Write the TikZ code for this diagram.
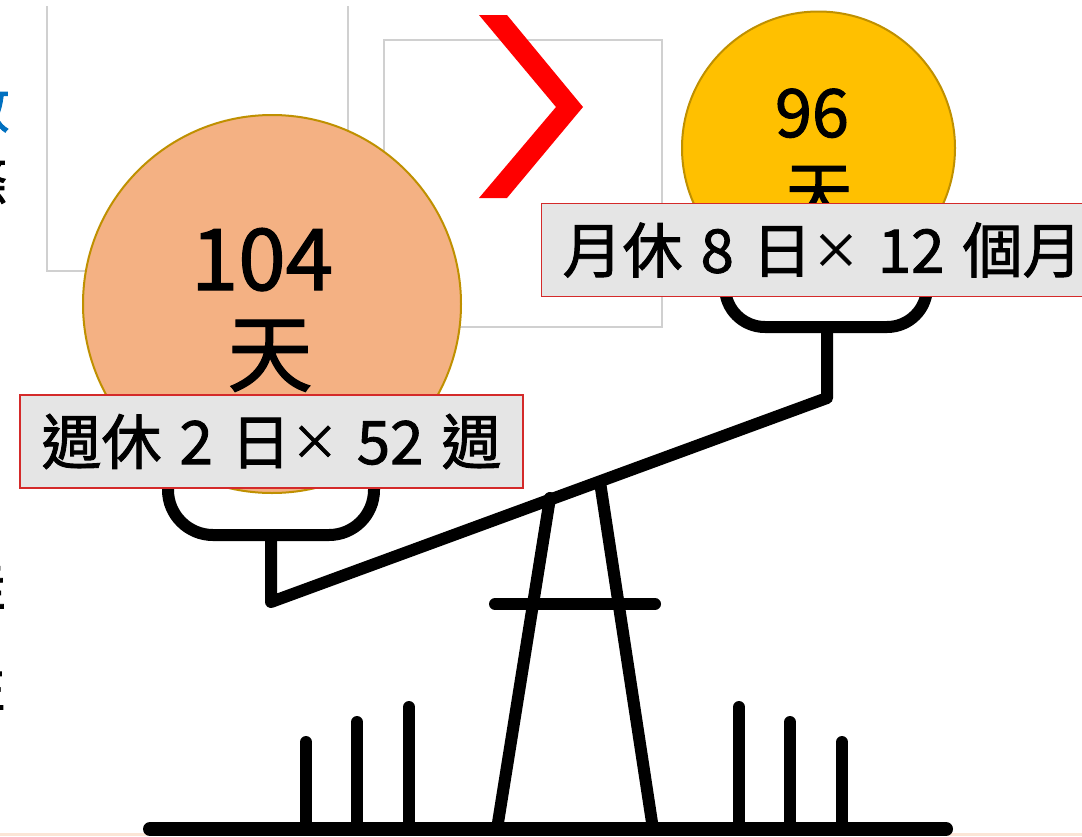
\documentclass[tikz,border=0pt]{standalone}
\usepackage{fontspec}
\setmainfont{Noto Sans CJK TC}[FakeBold=1.5]
\definecolor{goldedge}{HTML}{BF9000}
\definecolor{peach}{HTML}{F4B183}
\definecolor{amber}{HTML}{FFC000}
\definecolor{boxgray}{HTML}{E5E5E5}
\definecolor{boxred}{HTML}{D42A2A}
\definecolor{framegray}{HTML}{D0D0D0}
\definecolor{titleblue}{HTML}{0070C0}
\definecolor{chevron}{HTML}{FF0000}
\definecolor{footband}{HTML}{FBE5D6}
% word gap and multiplication sign used in the formula labels
\newcommand\wgap{\hspace{0.3em}}
\newcommand\mulsign{\raisebox{3.5pt}{\fontsize{36}{40}\selectfont ×}}
\begin{document}
\begin{tikzpicture}[x=0.75pt,y=-0.75pt,
  frame/.style={draw=framegray, line width=1pt},
  bar/.style={draw=black, line width=9pt, line cap=round, line join=round},
  disc/.style={circle, draw=goldedge, line width=1.5pt, inner sep=0pt},
  labelbox/.style={draw=boxred, fill=boxgray, line width=0.9pt, inner ysep=0pt,
    minimum height=69.75pt, font=\fontsize{45}{50}\selectfont},
  bigtxt/.style={inner sep=0pt, anchor=base, font=\fontsize{64}{70}\selectfont},
  midtxt/.style={inner sep=0pt, anchor=base, font=\fontsize{50}{56}\selectfont},
  edgetxt/.style={inner sep=0pt, anchor=base east, font=\fontsize{42}{46}\selectfont}]
\useasboundingbox (0,0) rectangle (1082,836);
\clip (0,0) rectangle (1082,836);
\fill[white] (0,0) rectangle (1082,836);
\fill[footband] (0,833) rectangle (1082,836);

% cut-off text at the left edge
\node[edgetxt, text=titleblue] (t1) at (10,128) {數};
\node[edgetxt] (t2) at (8,203) {條};
\node[edgetxt] (t3) at (6,606) {佳};
\node[edgetxt] (t4) at (6,707) {性};

% empty picture frames
\draw[frame] (47,6) -- (47,271) -- (348,271) -- (348,6);
\draw[frame] (384,40) rectangle (662,327);

% red chevron
\fill[chevron] (479,15) -- (507,15) -- (583,107) -- (507,198) -- (479,198) -- (556,107) -- cycle;

% scale: ground, grass and stand
\coordinate (g1) at (150,829);
\coordinate (g2) at (946,829);
\draw[bar, line width=10.5pt] (g1) -- (g2);
\foreach \x/\t in {306/742, 357/722, 409/707, 739/707, 790/722, 842/742}
  \draw[bar] (\x,829) -- (\x,\t);
\coordinate (legLb) at (497,829);
\coordinate (legLt) at (550,498);
\coordinate (legRb) at (653,829);
\coordinate (legRt) at (600,482);
\draw[bar] (legLb) -- (legLt);
\draw[bar] (legRb) -- (legRt);
\draw[bar] (495,604) -- (655,604);

% beam and pans
\coordinate (beamL) at (271,602);
\coordinate (beamR) at (827,398);
\draw[bar] (271,535) -- (beamL) -- (beamR) -- (827,327);
\draw[bar, rounded corners=33.75pt] (168,470) -- (168,535) -- (374,535) -- (374,470);
\draw[bar, rounded corners=30pt] (725,280) -- (725,327) -- (927,327) -- (927,280);

% weights
\node[disc, fill=peach, minimum size=283.5pt] (wL) at (272,304) {};
\node[disc, fill=amber, minimum size=204.75pt] (wR) at (818.5,148) {};
\node[bigtxt] (nL) at (262,290) {104};
\node[bigtxt] (dL) at (270,385) {天};
\node[midtxt] (nR) at (812,137) {96};
\node[midtxt] (dR) at (819,217) {天};

% formula labels
\node[labelbox, minimum width=377.25pt] (bL) at (271.5,441.5)
  {週休\wgap 2\wgap 日\mulsign\wgap 52\wgap 週};
\node[labelbox, anchor=west, inner xsep=15.75pt] (bR) at (541,250)
  {月休\wgap 8\wgap 日\mulsign\wgap 12\wgap 個月};
\end{tikzpicture}
\end{document}
